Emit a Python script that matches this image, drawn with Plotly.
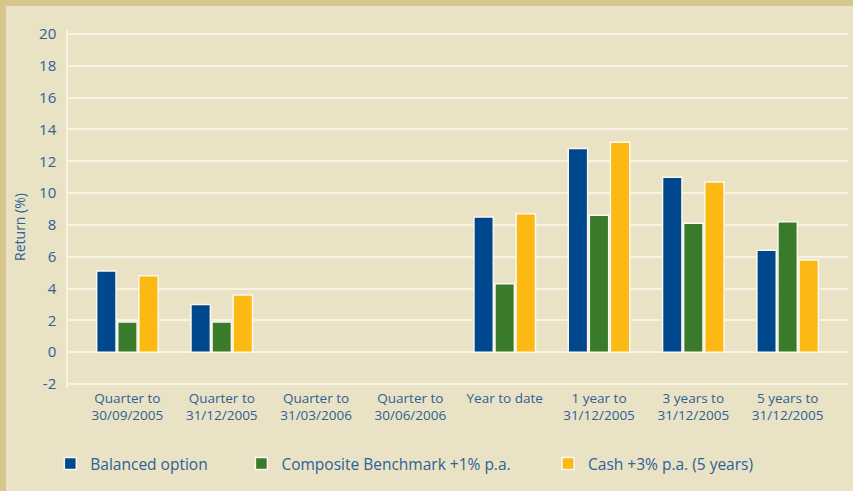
import plotly.graph_objects as go

categories = [
    "Quarter to<br>30/09/2005",
    "Quarter to<br>31/12/2005",
    "Quarter to<br>31/03/2006",
    "Quarter to<br>30/06/2006",
    "Year to date",
    "1 year to<br>31/12/2005",
    "3 years to<br>31/12/2005",
    "5 years to<br>31/12/2005",
]

balanced = [5.1, 3.0, None, None, 8.5, 12.8, 11.0, 6.4]
benchmark = [1.9, 1.9, None, None, 4.3, 8.6, 8.1, 8.2]
cash = [4.8, 3.6, None, None, 8.7, 13.2, 10.7, 5.8]

y_ticks = list(range(-2, 21, 2))

BG = "#EAE2C5"
BORDER = "#D9C58E"
TEXT = "#2D6197"
GRID = "#F7F2E3"
FONT = "Open Sans"

series = [
    ("Balanced option", balanced, "#00488D", "legend"),
    ("Composite Benchmark +1% p.a.", benchmark, "#3A7A2B", "legend2"),
    ("Cash +3% p.a. (5 years)", cash, "#FDB913", "legend3"),
]

fig = go.Figure()
for name, vals, color, leg in series:
    fig.add_trace(go.Bar(
        x=categories, y=vals, name=name, legend=leg, showlegend=True,
        marker=dict(color=color, line=dict(color="#FBF8EE", width=1.5)),
    ))

# separate legends so each entry sits where it does in the original
legend_style = dict(
    orientation="h", xref="container", yref="container",
    yanchor="middle", y=0.055, xanchor="left",
    bgcolor="rgba(0,0,0,0)", font=dict(family=FONT, size=15.5, color=TEXT),
    itemwidth=30,
)
fig.update_layout(
    showlegend=True,
    legend=dict(x=0.059, **legend_style),
    legend2=dict(x=0.283, **legend_style),
    legend3=dict(x=0.6425, **legend_style),
)

fig.update_layout(
    width=853, height=491,
    margin=dict(l=68, r=5, t=30, b=103, autoexpand=False),
    paper_bgcolor=BG, plot_bgcolor=BG,
    barmode="group", bargap=0.33, bargroupgap=0.08,
    font=dict(family=FONT, color=TEXT),
)

fig.update_xaxes(
    range=[-0.63, 7.64], showgrid=False, zeroline=False, showline=False,
    tickfont=dict(size=13.5, color=TEXT), ticks="",
)
fig.update_yaxes(
    range=[-2.25, 20.25], tickvals=y_ticks, ticktext=[str(v) for v in y_ticks],
    showgrid=True, gridcolor=GRID, gridwidth=1.5, zeroline=False,
    showline=True, linecolor=GRID, linewidth=1.5,
    tickfont=dict(size=15, color=TEXT), ticklabelstandoff=7,
)

fig.add_annotation(
    text="Return (%)", textangle=-90, xref="paper", yref="paper",
    x=-0.0615, y=0.45, xanchor="center", yanchor="middle", showarrow=False,
    font=dict(size=14, color=TEXT),
)

# frame along top and left edges
fig.add_shape(type="rect", xref="paper", yref="paper", x0=-0.1, x1=1.01,
              y0=1.067, y1=1.1, fillcolor=BORDER, line_width=0, layer="below")
fig.add_shape(type="rect", xref="paper", yref="paper", x0=-0.1, x1=-0.0795,
              y0=-0.3, y1=1.1, fillcolor=BORDER, line_width=0, layer="below")

fig.write_html("out.html", config={"displayModeBar": False},
               post_script="document.body.style.margin='0';")
